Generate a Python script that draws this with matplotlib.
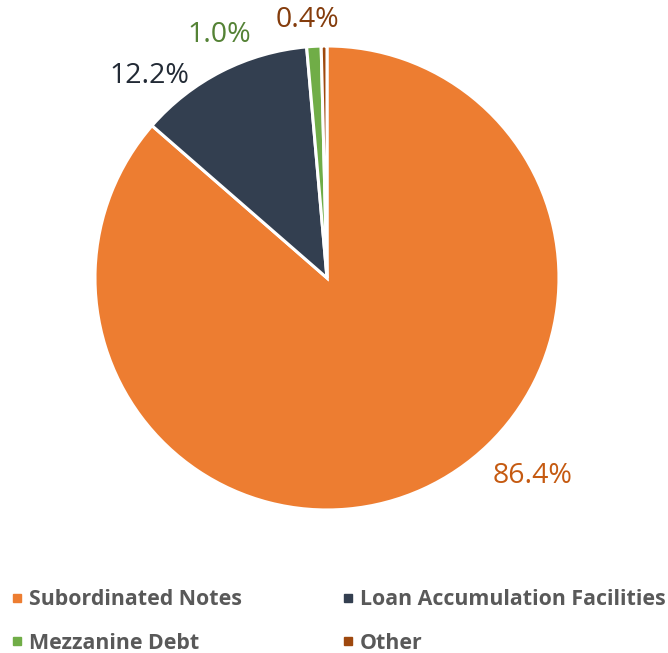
import matplotlib
matplotlib.use('Agg')
import matplotlib.pyplot as plt
from matplotlib.lines import Line2D

categories = ['Subordinated Notes', 'Loan Accumulation Facilities', 'Mezzanine Debt', 'Other']
shares = [86.4, 12.2, 1.0, 0.4]
pct_labels = ['86.4%', '12.2%', '1.0%', '0.4%']

slice_colors = ['#ED7D31', '#333F50', '#70AD47', '#9E480E']
label_colors = ['#C55A11', '#222A35', '#548235', '#843C0C']
# label anchor points, in pie-radius units (Excel "best fit" placement)
label_pos = [(0.888, -0.855), (-0.767, 0.871), (-0.466, 1.047), (-0.086, 1.112)]

plt.rcParams['font.family'] = ['Open Sans', 'DejaVu Sans']

fig = plt.figure(figsize=(6.68, 6.53), dpi=100)
fig.patch.set_facecolor('white')
ax = fig.add_axes([0.1422, 0.219, 0.6946, 0.7106])

ax.pie(shares, colors=slice_colors, startangle=90, counterclock=False, radius=1.0,
       wedgeprops={'edgecolor': 'white', 'linewidth': 2.2})
for (x, y), txt, col in zip(label_pos, pct_labels, label_colors):
    ax.text(x, y, txt, color=col, fontsize=20.5, ha='center', va='center')
ax.set_xlim(-1, 1)
ax.set_ylim(-1, 1)
ax.set_aspect('equal')
ax.axis('off')

handles = [Line2D([0], [0], marker='s', linestyle='none', markersize=6,
                  markerfacecolor=c, markeredgecolor=c) for c in slice_colors]
order = [0, 2, 1, 3]
leg = fig.legend([handles[i] for i in order], [categories[i] for i in order],
                 ncol=2, loc='upper left', bbox_to_anchor=(0.002, 0.114),
                 frameon=False, borderpad=0, handlelength=0.5, handletextpad=0.3,
                 columnspacing=4.7, labelspacing=1.05,
                 prop={'weight': 'bold', 'size': 15.4})
for t in leg.get_texts():
    t.set_color('#595959')

fig.savefig('out.png', dpi=100)
